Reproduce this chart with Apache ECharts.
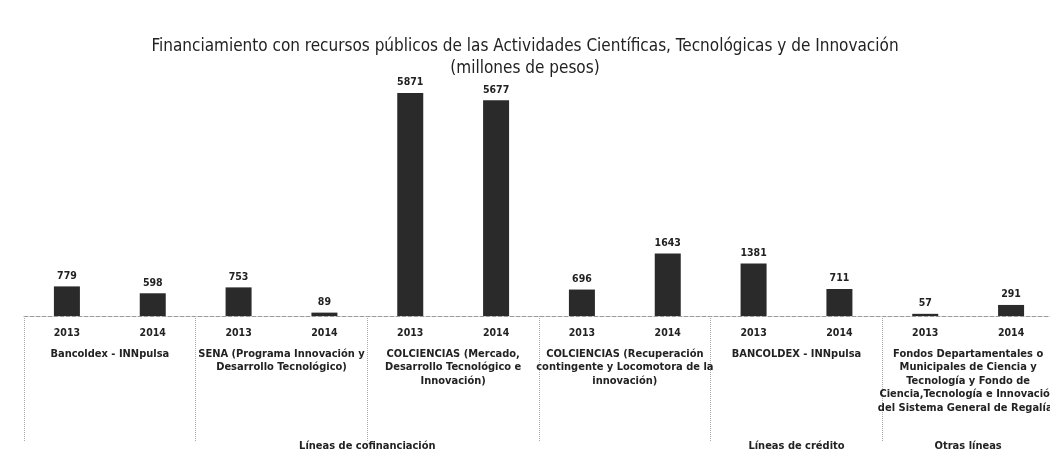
<!DOCTYPE html>
<html>
<head>
<meta charset="utf-8">
<script src="https://cdn.jsdelivr.net/npm/echarts@6/dist/echarts.min.js"></script>
<style>
  html, body { margin: 0; padding: 0; background: #fff; }
  #chart { width: 1050px; height: 454px; }
</style>
</head>
<body>
<div id="chart"></div>
<script>
// datos (millones de pesos)
const years = ['2013', '2014', '2013', '2014', '2013', '2014', '2013', '2014', '2013', '2014', '2013', '2014'];
const values = [779, 598, 753, 89, 5871, 5677, 696, 1643, 1381, 711, 57, 291];
const programs = [
  'Bancoldex - INNpulsa',
  'SENA (Programa Innovación y\nDesarrollo Tecnológico)',
  'COLCIENCIAS (Mercado,\nDesarrollo Tecnológico e\nInnovación)',
  'COLCIENCIAS (Recuperación\ncontingente y Locomotora de la\ninnovación)',
  'BANCOLDEX - INNpulsa',
  'Fondos Departamentales o\nMunicipales de Ciencia y\nTecnología y Fondo de\nCiencia,Tecnología e Innovación\ndel Sistema General de Regalías'
];
// posición (en número de barras) del centro de cada tipo de línea
const lineGroupPos = [4, 9, 11];
const lineGroups = ['Líneas de cofinanciación', 'Líneas de crédito', 'Otras líneas'];

const font = "'Liberation Sans Narrow', 'DejaVu Sans Condensed', 'Noto Sans', sans-serif";
const txt = '#222';

const chart = echarts.init(document.getElementById('chart'));

chart.setOption({
  animation: false,
  textStyle: { fontFamily: font },
  title: {
    text: 'Financiamiento con recursos públicos de las Actividades Científicas, Tecnológicas y de Innovación\n(millones de pesos)',
    left: 'center',
    top: 31,
    textStyle: { fontSize: 17, fontWeight: 'normal', color: txt, lineHeight: 22, fontFamily: font }
  },
  grid: { left: 24, right: -4, top: 88, bottom: 138, outerBoundsMode: 'none', containLabel: false },
  xAxis: [
    {
      type: 'category',
      data: years,
      position: 'bottom',
      axisLine: { lineStyle: { color: '#999', type: 'dashed', width: 1 } },
      axisTick: { show: false },
      axisLabel: { margin: 12, fontSize: 10.5, fontWeight: 'bold', color: txt }
    },
    {
      type: 'category',
      data: programs,
      position: 'bottom',
      axisLine: { show: false },
      axisTick: { show: false },
      axisLabel: {
        margin: 31, fontSize: 11, fontWeight: 'bold', color: txt,
        lineHeight: 13.5, interval: 0, align: 'center'
      }
    },
    {
      // separadores punteados entre programas
      type: 'value',
      min: 0, max: 12, interval: 2,
      position: 'bottom',
      axisLine: { show: false },
      axisTick: { show: true, length: 125, lineStyle: { color: '#aaa', type: 'dotted' } },
      axisLabel: { show: false },
      splitLine: { show: false }
    },
    {
      type: 'value',
      min: 0, max: 12, interval: 1,
      position: 'bottom',
      axisLine: { show: false },
      axisTick: { show: false },
      splitLine: { show: false },
      axisLabel: {
        margin: 125, fontSize: 11, fontWeight: 'bold', color: txt,
        showMinLabel: false, showMaxLabel: false,
        formatter: function (v) {
          const i = lineGroupPos.indexOf(v);
          return i >= 0 ? lineGroups[i] : '';
        }
      }
    }
  ],
  yAxis: { type: 'value', min: 0, max: 6000, show: false },
  series: [{
    type: 'bar',
    xAxisIndex: 0,
    data: values,
    barWidth: 26,
    itemStyle: { color: '#2a2a2a' },
    label: {
      show: true, position: 'top', distance: 5,
      fontSize: 10.5, fontWeight: 'bold', color: txt
    }
  }]
});
</script>
</body>
</html>
